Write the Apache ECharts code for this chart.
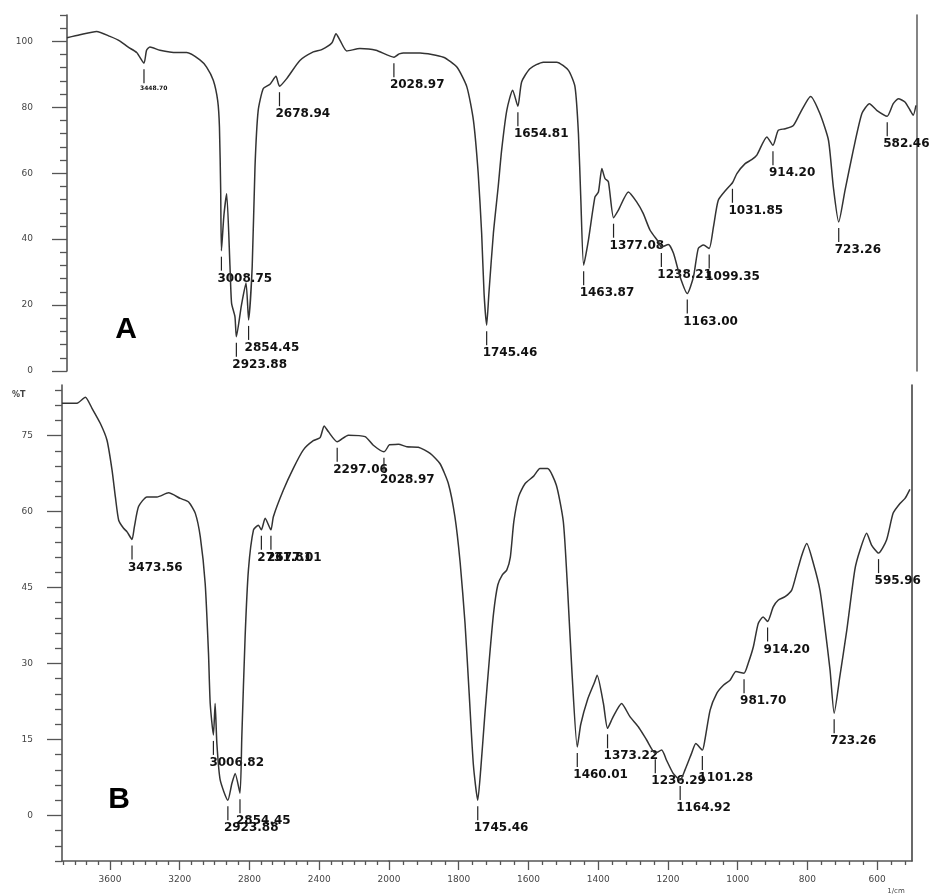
<!DOCTYPE html>
<html><head><meta charset="utf-8">
<script src="https://cdn.jsdelivr.net/npm/echarts@6/dist/echarts.min.js"></script>
<style>html,body{margin:0;padding:0;background:#fff}#c{width:929px;height:896px}</style>
</head><body><div id="c"></div>
<script>
// ---- Spectrum A (top) ----
const topWavenumber = [3886,3813,3718,3642,3585,3540,3490,3448.70,3434,3415,3358,3263,3206,3131,3093,3055,3030,3020,3013,3008.75,2995,2979,2960,2951,2932,2923.88,2895,2869,2854.45,2834,2818,2800,2771,2733,2699,2678.94,2638,2563,2487,2439,2382,2358,2335,2297,2222,2131,2028.97,2000,
 1987.5,1939,1871,1832,1803,1784,1770,1760,1753,1745.46,1739,1726,1712,1702,1687,1670,1654.81,1644,1620,1581,1542,1508,1489,1479,1472,1463.87,1450,1431,1421,1411,1402,1392,1377.08,1363,1334,1310,1291,1271,1247,1238.21,1218,1203,1184,1163.00,1145,1131,1116,1099.35,1087,1073,1050,1031.85,1019,995,976,961,932,914.20,899,879,855,836,805,778,753,739,723.26,705,681,656,634,613,582.46,565,550,531,516,507,499];
const topTransmittance = [101.1,102,103,101.5,100.1,98.3,96.6,93.4,97.3,98.3,97.3,96.6,96.6,94.4,92.2,88.2,82,74,55,36.5,47,53.8,31.6,20.5,16.5,10.4,20,26.7,15.5,31.6,62,79,85.7,87,89.4,86.4,88.7,94.2,96.8,97.5,99.5,102.3,100.3,97.1,97.8,97.3,95.2,96.2,
 96.5,96.5,95.2,92.2,86.2,76.1,59.9,41.7,23.5,13.9,23.5,41.7,55.9,67,79.1,85.2,80.3,87.7,91.7,93.7,93.7,91.2,86.2,72,51.8,32.1,39.7,52.8,54.3,61.4,58.4,57.4,46.5,48.8,54.3,51.3,47.8,42.7,39.2,37.6,38.4,35.7,28.6,23.5,28.6,37.2,38.2,37.2,43.7,51.8,55,57.1,59.9,62.9,64.1,65.5,71,68.5,73,73.5,74.5,78.1,83.3,78.1,70,55.9,45.2,54.8,67,78.1,81.1,79.1,77.3,81.1,82.6,81.6,79.1,77.6,80.6];
const topPeaks = [3448.70,3008.75,2923.88,2854.45,2678.94,2028.97,1745.46,1654.81,1463.87,1377.08,1238.21,1163.00,1099.35,1031.85,914.20,723.26,582.46];

// ---- Spectrum B (bottom) ----
const bottomWavenumber = [3875,3789,3741,3703,3655,3617,3588,3569,3550,3522,3502,3473.56,3460,3436,3388,3330,3264,3197,3149,3111,3082,3054,3035,3025,3006.82,2997,2987,2968,2923.88,2901,2882,2854.45,2844,2825,2806,2777,2749,2731.81,2710,2677.01,2663,2605,2548,2491,2434,2395,2372,2348,2297.06,2233,2137,2090,2028.97,2000,
 1973,1949,1916,1882,1854,1830,1811,1796,1782,1770,1758,1745.46,1737,1725,1712,1700,1688,1675,1662,1652,1642,1628,1610,1585,1567,1545,1520,1500,1488,1475,1460.01,1450,1430,1410,1403,1385,1373.22,1357,1333,1309,1285,1261,1236.29,1218,1204,1185,1164.92,1151,1132,1120,1101.28,1094,1079,1060,1041,1022,1005,981.70,970,955,941,927,914.20,898,884,864,845,831,816,802,783,764,750,735,723.26,707,687,664,649,630,616,595.96,573,554,534.5,520,506];
const bottomTransmittance = [81.4,81.4,82.6,80.4,77.4,74.1,68.2,62.9,58.3,56.7,56,54.5,57,61,62.9,62.9,63.7,62.6,61.9,59.7,55,45.8,32,22,15.9,22.1,14.2,7,3,6.3,8.3,4.4,15.5,35.3,48.5,56.4,57.3,56.4,58.7,56.4,59,64.3,68.6,72.2,74,74.6,76.9,75.8,73.8,75.1,74.8,73.1,71.8,73.2,
 73.3,72.8,72.7,71.5,69.5,65.6,59,50,38,24,10,3,9,20,31,40,45.5,47.5,48.5,51,58,63,65.5,67,68.5,68.5,65.2,58,45,28,13.5,18,23,26.4,27.7,22.1,17.2,19.5,22.1,19.5,17.5,14.9,12.3,12.9,10.9,8.3,7,9,12.3,14.2,12.9,14.9,20.8,24.1,25.7,26.7,28.4,28.1,30,33.3,37.9,39.2,38.3,41.2,42.5,43.2,44.5,47.8,51.4,53.7,49.8,44.5,37.3,28.7,20.2,27.4,36.6,48.5,52.4,55.7,53.4,51.8,54.4,59.7,61.6,62.6,64.4];
const bottomPeaks = [3473.56,3006.82,2923.88,2854.45,2731.81,2677.01,2297.06,2028.97,1745.46,1460.01,1373.22,1236.29,1164.92,1101.28,981.70,914.20,723.26,595.96];

// ---- Tick labels ----
const xTicksHigh = [2000,2400,2800,3200,3600];
const xTicksLow = [600,800,1000,1200,1400,1600,1800];
const yTicksTop = [0,20,40,60,80,100];
const yTicksBottom = [0,15,30,45,60,75];
const smallLabelPeaks = [3448.70];

// ---- minor tick positions ----
const xMinorHigh = [];
for (let k = 1; 2000 + k * 400 / 6 <= 3875; k++) if (k % 6) xMinorHigh.push(2000 + k * 400 / 6);
const xMinorLow = [];
for (let v = 520; v < 2000; v += 40) if (v % 200) xMinorLow.push(v);
const yMinorTop = [];
for (let v = 4; v <= 108; v += 4) if (v % 20) yMinorTop.push(v);
const yMinorBottom = [];
for (let v = -9; v <= 84; v += 3) if (v % 15) yMinorBottom.push(v);

const AX = '#555';
const LBL = {color:'#444', fontSize:9, fontFamily:'DejaVu Sans'};

function pairs(wn, tr, keep) {
  const out = [];
  for (let i = 0; i < wn.length; i++) if (keep(wn[i])) out.push([wn[i], tr[i]]);
  return out;
}
const hi = w => w >= 2000, lo = w => w <= 2000;

function spectrum(wn, tr, keep, xi, yi) {
  return {type:'line', xAxisIndex:xi, yAxisIndex:yi, data:pairs(wn, tr, keep),
    showSymbol:false, smooth:0.2, silent:true, animation:false,
    lineStyle:{color:'#333', width:1.5}};
}
function peaks(list, wn, tr, keep, xi, yi) {
  const data = list.filter(keep).map(w => [w, tr[wn.indexOf(w)]]);
  return {type:'custom', xAxisIndex:xi, yAxisIndex:yi, data, silent:true, animation:false, clip:false,
    renderItem(params, api) {
      const w = api.value(0);
      const p = api.coord([w, api.value(1)]);
      const small = smallLabelPeaks.indexOf(w) >= 0;
      return {type:'group', children:[
        {type:'line', shape:{x1:p[0], y1:p[1] + 6, x2:p[0], y2:p[1] + 20}, style:{stroke:'#222', lineWidth:1.2}},
        {type:'text', x:p[0] - 4, y:p[1] + 22, style:{text:w.toFixed(2), fill:'#111',
          font: small ? 'bold 6px "DejaVu Sans"' : 'bold 12px "DejaVu Sans"',
          align:'left', verticalAlign:'top', textAlign:'left', textVerticalAlign:'top'}}
      ]};
    }};
}

function xAx(grid, min, max, opts) {
  return Object.assign({type:'value', gridIndex:grid, min, max, inverse:true, position:'bottom',
    splitLine:{show:false}}, opts);
}
const gridBase = {containLabel:false, outerBoundsMode:'none', show:false};
const option = {
  animation:false,
  backgroundColor:'#fff',
  grid:[
    Object.assign({left:67, width:332, top:15, height:356}, gridBase),
    Object.assign({left:399, width:518, top:15, height:356}, gridBase),
    Object.assign({left:62, width:327, top:385, height:476}, gridBase),
    Object.assign({left:389, width:523, top:385, height:476}, gridBase)
  ],
  xAxis:[
    xAx(0, 2000, 3886, {show:false}),
    xAx(1, 496, 2000, {show:false}),
    xAx(2, 2000, 3875, {
      axisLine:{show:true, onZero:false, lineStyle:{color:AX, width:1.6}},
      axisTick:{show:true, inside:false, length:9, customValues:xTicksHigh, lineStyle:{color:AX, width:1.3}},
      axisLabel:Object.assign({show:true, margin:14, customValues:xTicksHigh, formatter:v => String(v)}, LBL)}),
    xAx(2, 2000, 3875, {
      axisLine:{show:false, onZero:false},
      axisTick:{show:true, inside:false, length:4, customValues:xMinorHigh, lineStyle:{color:AX, width:1.3}},
      axisLabel:{show:false}}),
    xAx(3, 500, 2000, {
      axisLine:{show:true, onZero:false, lineStyle:{color:AX, width:1.6}},
      axisTick:{show:true, inside:false, length:9, customValues:xTicksLow, lineStyle:{color:AX, width:1.3}},
      axisLabel:Object.assign({show:true, margin:14, customValues:xTicksLow, formatter:v => String(v)}, LBL)}),
    xAx(3, 500, 2000, {
      axisLine:{show:false, onZero:false},
      axisTick:{show:true, inside:false, length:4, customValues:xMinorLow, lineStyle:{color:AX, width:1.3}},
      axisLabel:{show:false}})
  ],
  yAxis:[
    {type:'value', gridIndex:0, min:0, max:108, position:'left',
      axisLine:{show:true, onZero:false, lineStyle:{color:AX, width:1.6}}, splitLine:{show:false},
      axisTick:{show:true, inside:false, length:15, customValues:yTicksTop, lineStyle:{color:AX, width:1.3}},
      axisLabel:Object.assign({show:true, margin:34, customValues:yTicksTop, formatter:v => String(v)}, LBL)},
    {type:'value', gridIndex:0, min:0, max:108, position:'left',
      axisLine:{show:false, onZero:false}, splitLine:{show:false},
      axisTick:{show:true, inside:false, length:7, customValues:yMinorTop, lineStyle:{color:AX, width:1.3}},
      axisLabel:{show:false}},
    {type:'value', gridIndex:1, min:0, max:108, position:'right',
      axisLine:{show:true, onZero:false, lineStyle:{color:'#666', width:1.6}}, splitLine:{show:false},
      axisTick:{show:false}, axisLabel:{show:false}},
    {type:'value', gridIndex:2, min:-9, max:85, position:'left',
      axisLine:{show:true, onZero:false, lineStyle:{color:AX, width:1.6}}, splitLine:{show:false},
      axisTick:{show:true, inside:false, length:15, customValues:yTicksBottom, lineStyle:{color:AX, width:1.3}},
      axisLabel:Object.assign({show:true, margin:29, customValues:yTicksBottom, formatter:v => String(v)}, LBL)},
    {type:'value', gridIndex:2, min:-9, max:85, position:'left',
      axisLine:{show:false, onZero:false}, splitLine:{show:false},
      axisTick:{show:true, inside:false, length:7, customValues:yMinorBottom, lineStyle:{color:AX, width:1.3}},
      axisLabel:{show:false}},
    {type:'value', gridIndex:3, min:-9, max:85, position:'right',
      axisLine:{show:true, onZero:false, lineStyle:{color:'#444', width:1.6}}, splitLine:{show:false},
      axisTick:{show:false}, axisLabel:{show:false}}
  ],
  series:[
    spectrum(topWavenumber, topTransmittance, hi, 0, 0),
    spectrum(topWavenumber, topTransmittance, lo, 1, 2),
    spectrum(bottomWavenumber, bottomTransmittance, hi, 2, 3),
    spectrum(bottomWavenumber, bottomTransmittance, lo, 4, 5),
    peaks(topPeaks, topWavenumber, topTransmittance, w => w > 2000, 0, 0),
    peaks(topPeaks, topWavenumber, topTransmittance, w => w < 2000, 1, 2),
    peaks(bottomPeaks, bottomWavenumber, bottomTransmittance, w => w > 2000, 2, 3),
    peaks(bottomPeaks, bottomWavenumber, bottomTransmittance, w => w < 2000, 4, 5)
  ],
  graphic:[
    {type:'text', x:126, y:330, style:{text:'A', font:'bold 30px "Liberation Sans"', fill:'#000', textAlign:'center', textVerticalAlign:'middle'}},
    {type:'text', x:119, y:800, style:{text:'B', font:'bold 30px "Liberation Sans"', fill:'#000', textAlign:'center', textVerticalAlign:'middle'}},
    {type:'text', x:12, y:395, style:{text:'%T', font:'bold 8px "DejaVu Sans"', fill:'#444', textAlign:'left', textVerticalAlign:'middle'}},
    {type:'text', x:896, y:891, style:{text:'1/cm', font:'7px "DejaVu Sans"', fill:'#444', textAlign:'center', textVerticalAlign:'middle'}}
  ]
};
const chart = echarts.init(document.getElementById('c'), null, {renderer:'canvas'});
chart.setOption(option);
</script>
</body></html>
